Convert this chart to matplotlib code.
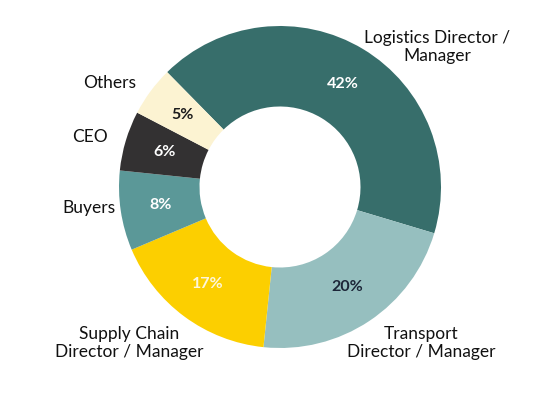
import matplotlib
matplotlib.use("Agg")
import numpy as np
import matplotlib.pyplot as plt

# roles, clockwise from the top-left
roles = ["Logistics Director /\nManager", "Transport\nDirector / Manager",
         "Supply Chain\nDirector / Manager", "Buyers", "CEO", "Others"]
pct_labels = ["42%", "20%", "17%", "8%", "6%", "5%"]
# angular share of each slice as drawn in the picture
shares = [42, 22, 17, 8, 6, 5]

colors = ["#376e6b", "#96bfbf", "#fccf00", "#5b9898", "#333132", "#fcf3d2"]
pct_colors = ["white", "#1c2638", "#fdf6dc", "white", "white", "#1c1c1c"]
# outer label anchors (image pixels)
label_pos = [(437, 47), (421, 343), (129, 343), (89, 208), (90, 137), (110, 83)]

W, H = 555, 393
cx, cy, R = 280, 187, 161

plt.rcParams["font.family"] = ["Lato", "DejaVu Sans"]
fig = plt.figure(figsize=(W / 100, H / 100), dpi=100)
ax = fig.add_axes([0, 0, 1, 1])
ax.set_xlim(0, W)
ax.set_ylim(0, H)
ax.set_aspect("equal")
ax.axis("off")

wedges, _ = ax.pie(shares, colors=colors, startangle=134.5, counterclock=False,
                   center=(cx, H - cy), radius=R,
                   wedgeprops=dict(width=R * 0.5, linewidth=0))
ax.set_xlim(0, W)
ax.set_ylim(0, H)

for w, txt, col in zip(wedges, pct_labels, pct_colors):
    ang = np.deg2rad((w.theta1 + w.theta2) / 2)
    r = R * 0.75
    ax.text(cx + r * np.cos(ang), H - cy + r * np.sin(ang), txt,
            ha="center", va="center", fontsize=11.5, fontweight="bold", color=col)

for name, (x, y) in zip(roles, label_pos):
    ax.text(x, H - y, name, ha="center", va="center", fontsize=12.5,
            color="#111111", linespacing=1.2)

fig.savefig("out.png", dpi=100)
